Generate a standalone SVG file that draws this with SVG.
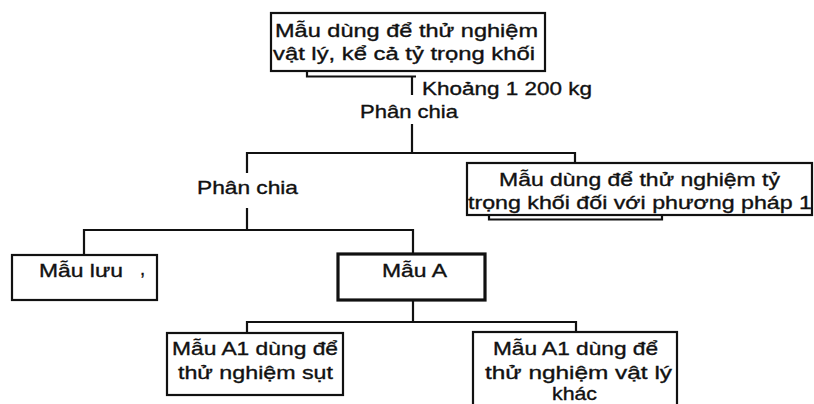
<svg xmlns="http://www.w3.org/2000/svg" width="814" height="404" viewBox="0 0 814 404">
  <style>
    .box { fill: #ffffff; stroke: #111111; stroke-width: 2.2; }
    .box-bold { fill: #ffffff; stroke: #111111; stroke-width: 3.2; }
    .wire { fill: none; stroke: #111111; stroke-width: 2.2; }
    .lbl { font-family: "Liberation Sans", Arial, sans-serif; font-size: 18.5px; fill: #111111; stroke: #111111; stroke-width: 0.35; }
  </style>
  <rect x="0" y="0" width="814" height="404" fill="#ffffff"/>

  <!-- connectors -->
  <g id="connectors">
    <!-- bracket under the top sample box -->
    <path class="wire" d="M307 71 V76.5 H416"/>
    <path class="wire" d="M412 76.5 V95"/>
    <!-- first split -->
    <path class="wire" d="M412 124 V153"/>
    <path class="wire" d="M247 173 V153 H575 V163"/>
    <!-- second split -->
    <path class="wire" d="M247 208 V230"/>
    <path class="wire" d="M84 255 V230 H413 V254"/>
    <!-- bracket under the bulk-density box -->
    <path class="wire" d="M489 215 V219.5 H662 V215"/>
    <!-- split of sample A -->
    <path class="wire" d="M413 300 V322"/>
    <path class="wire" d="M247 333 V322 H576 V332"/>
  </g>

  <g id="node-top">
    <rect class="box" x="271" y="13" width="274" height="58"/>
    <text class="lbl" x="275" y="37" textLength="263" lengthAdjust="spacingAndGlyphs">Mẫu dùng để thử nghiệm</text>
    <text class="lbl" x="273" y="60" textLength="262" lengthAdjust="spacingAndGlyphs">vật lý, kể cả tỷ trọng khối</text>
  </g>

  <g id="label-mass">
    <text class="lbl" x="422" y="95" textLength="170" lengthAdjust="spacingAndGlyphs">Khoảng 1 200 kg</text>
  </g>

  <g id="split-1">
    <text class="lbl" x="360" y="118" textLength="98" lengthAdjust="spacingAndGlyphs">Phân chia</text>
  </g>

  <g id="node-density">
    <rect class="box" x="467" y="163" width="345" height="52"/>
    <text class="lbl" x="499" y="186" textLength="281" lengthAdjust="spacingAndGlyphs">Mẫu dùng để thử nghiệm tỷ</text>
    <text class="lbl" x="468" y="209" textLength="344" lengthAdjust="spacingAndGlyphs">trọng khối đối với phương pháp 1</text>
  </g>

  <g id="split-2">
    <text class="lbl" x="197" y="194" textLength="101" lengthAdjust="spacingAndGlyphs">Phân chia</text>
  </g>

  <g id="node-retained">
    <rect class="box" x="12" y="255" width="145" height="45"/>
    <text class="lbl" x="39" y="277" textLength="84" lengthAdjust="spacingAndGlyphs">Mẫu lưu</text>
    <text class="lbl" x="140" y="275">,</text>
  </g>

  <g id="node-a">
    <rect class="box-bold" x="338" y="254" width="147" height="46"/>
    <text class="lbl" x="382" y="277" textLength="65" lengthAdjust="spacingAndGlyphs">Mẫu A</text>
  </g>

  <g id="node-a1-slump">
    <rect class="box" x="167" y="333" width="176" height="62"/>
    <text class="lbl" x="172" y="355" textLength="166" lengthAdjust="spacingAndGlyphs">Mẫu A1 dùng để</text>
    <text class="lbl" x="178" y="379" textLength="155" lengthAdjust="spacingAndGlyphs">thử nghiệm sụt</text>
  </g>

  <g id="node-a1-other">
    <rect class="box" x="473" y="332" width="204" height="80"/>
    <text class="lbl" x="493" y="355" textLength="165" lengthAdjust="spacingAndGlyphs">Mẫu A1 dùng để</text>
    <text class="lbl" x="485" y="379" textLength="187" lengthAdjust="spacingAndGlyphs">thử nghiệm vật lý</text>
    <text class="lbl" x="552" y="400" textLength="45" lengthAdjust="spacingAndGlyphs">khác</text>
  </g>
</svg>
